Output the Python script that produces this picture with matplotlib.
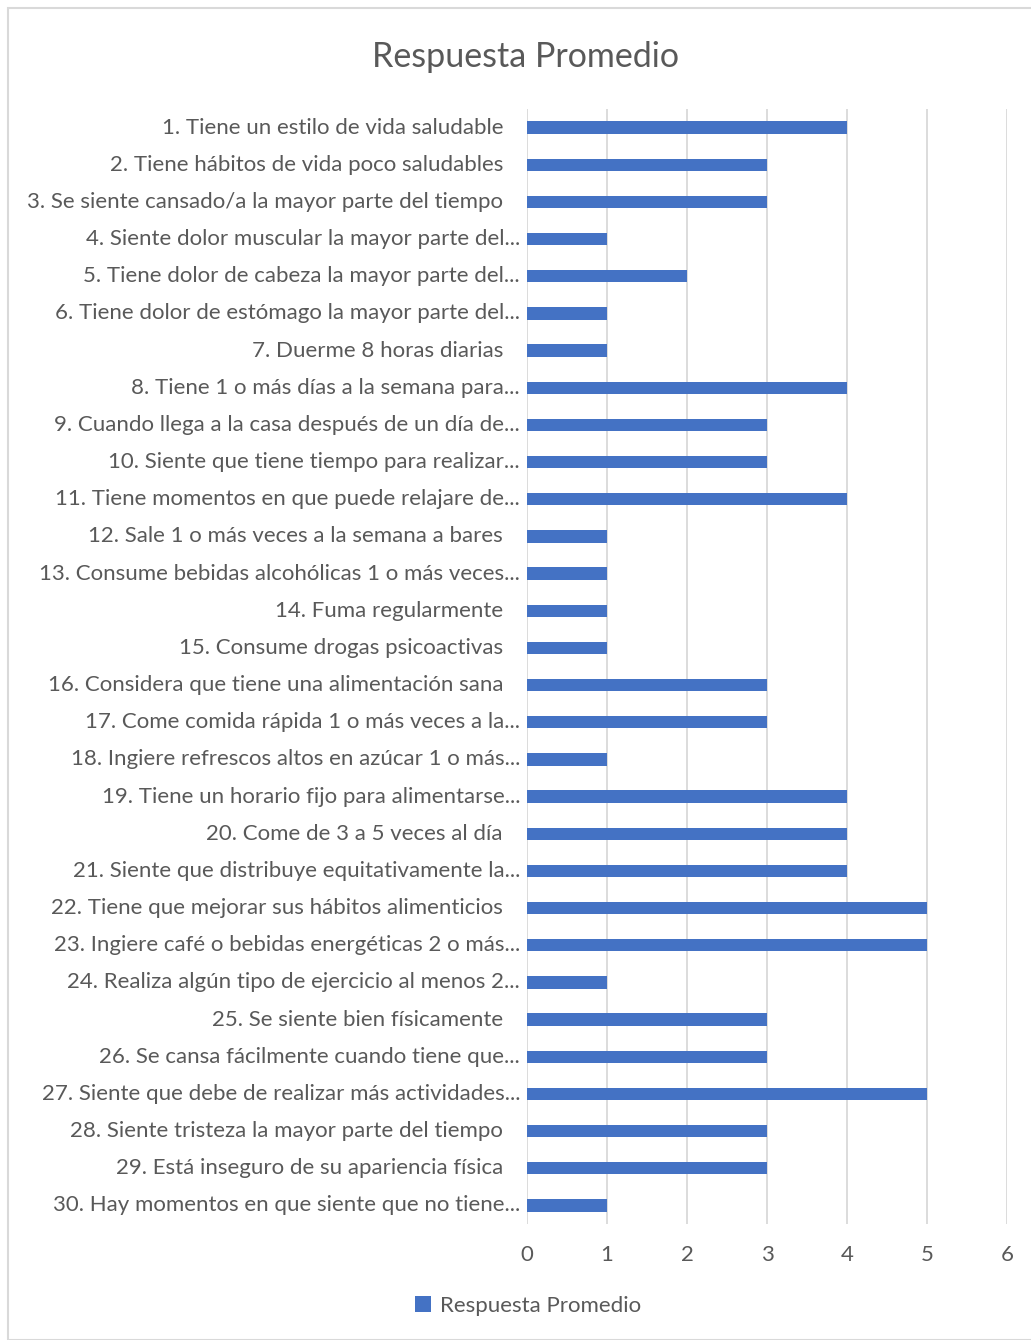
import matplotlib.pyplot as plt
import matplotlib.transforms as mtransforms
from matplotlib.patches import Rectangle

# datos
preguntas = [
    "1. Tiene un estilo de vida saludable",
    "2. Tiene hábitos de vida poco saludables",
    "3. Se siente cansado/a la mayor parte del tiempo",
    "4. Siente dolor muscular la mayor parte del...",
    "5. Tiene dolor de cabeza la mayor parte del...",
    "6. Tiene dolor de estómago la mayor parte del...",
    "7. Duerme 8 horas diarias",
    "8. Tiene 1 o más días a la semana para...",
    "9. Cuando llega a la casa después de un día de...",
    "10. Siente que tiene tiempo para realizar...",
    "11. Tiene momentos en que puede relajare de...",
    "12. Sale 1 o más veces a la semana a bares",
    "13. Consume bebidas alcohólicas 1 o más veces...",
    "14. Fuma regularmente",
    "15. Consume drogas psicoactivas",
    "16. Considera que tiene una alimentación sana",
    "17. Come comida rápida 1 o más veces a la...",
    "18. Ingiere refrescos altos en azúcar 1 o más...",
    "19. Tiene un horario fijo para alimentarse...",
    "20. Come de 3 a 5 veces al día",
    "21. Siente que distribuye equitativamente la...",
    "22. Tiene que mejorar sus hábitos alimenticios",
    "23. Ingiere café o bebidas energéticas 2 o más...",
    "24. Realiza algún tipo de ejercicio al menos 2...",
    "25. Se siente bien físicamente",
    "26. Se cansa fácilmente cuando tiene que...",
    "27. Siente que debe de realizar más actividades...",
    "28. Siente tristeza la mayor parte del tiempo",
    "29. Está inseguro de su apariencia física",
    "30. Hay momentos en que siente que no tiene...",
]
respuesta = [4, 3, 3, 1, 2, 1, 1, 4, 3, 3, 4, 1, 1, 1, 1,
             3, 3, 1, 4, 4, 4, 5, 5, 1, 3, 3, 5, 3, 3, 1]
ticks_x = [0, 1, 2, 3, 4, 5, 6]

gris = "#595959"
azul = "#4472C4"
plt.rcParams['font.family'] = ['Lato', 'DejaVu Sans']

fig = plt.figure(figsize=(10.31, 13.40), dpi=100)
fig.patches.append(Rectangle((8 / 1031, 0), 1.0, 1 - 8 / 1340, transform=fig.transFigure,
                             fill=False, edgecolor="#D9D9D9", linewidth=1.5))

ax = fig.add_axes([527 / 1031, 116 / 1340, 480 / 1031, 1115 / 1340])
y = list(range(len(preguntas)))
ax.barh(y, respuesta, height=0.33, color=azul, label="Respuesta Promedio", zorder=3)

ax.set_xlim(0, 6)
ax.set_ylim(len(preguntas) - 0.5, -0.5)
ax.set_xticks(ticks_x)
ax.set_xticklabels([str(t) for t in ticks_x], fontsize=16, color=gris)
ax.tick_params(axis='x', length=0, pad=15)
ax.set_yticks([])
ax.grid(axis='x', color="#D9D9D9", linewidth=1.3, zorder=0)
for s in ax.spines.values():
    s.set_visible(False)

# etiquetas de categoría
trans = mtransforms.blended_transform_factory(ax.transAxes, ax.transData)
for i, txt in enumerate(preguntas):
    off = -7 if txt.endswith("...") else -24
    tr = trans + mtransforms.ScaledTranslation(off / 100, 0, fig.dpi_scale_trans)
    ax.text(0, i, txt, transform=tr, ha='right', va='center', fontsize=16, color=gris)

fig.text(526 / 1031, 1 - 57 / 1340, "Respuesta Promedio", ha='center', va='center',
         fontsize=24.5, color=gris)
fig.legend(loc='center', bbox_to_anchor=(528 / 1031, 1 - 1306 / 1340), frameon=False,
           fontsize=16, labelcolor=gris, handlelength=0.7, handleheight=0.7,
           handletextpad=0.4)

fig.savefig("out.png", dpi=100)
